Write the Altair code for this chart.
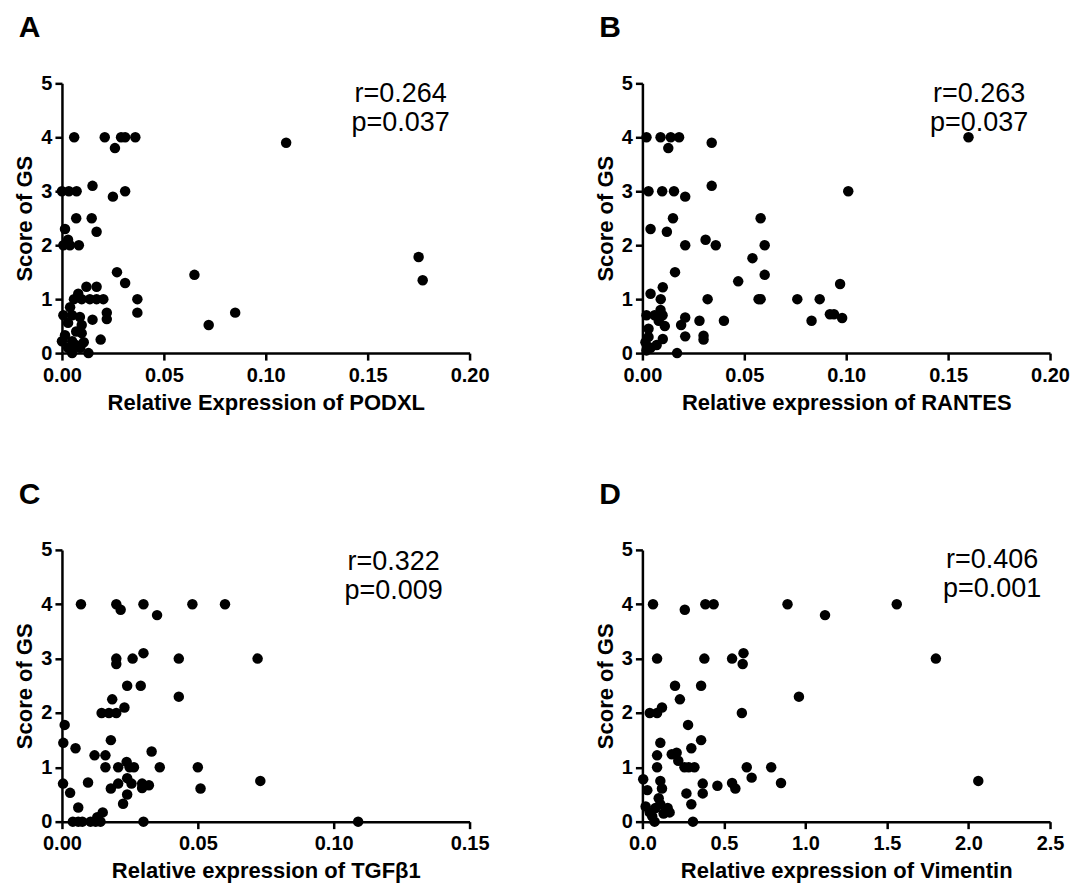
import altair as alt
import pandas as pd

# ---------------- data ----------------
podxl_x = [0.006, 0.021, 0.029, 0.031, 0.036, 0.026, 0.110,
           0.000, 0.0034, 0.0072, 0.015, 0.025, 0.031,
           0.007, 0.0146, 0.017, 0.0015, 0.003, 0.0007, 0.0039, 0.0083,
           0.027, 0.031, 0.065, 0.175, 0.177,
           0.037, 0.037, 0.072, 0.085,
           0.008, 0.012, 0.017,
           0.0059, 0.0097, 0.0137, 0.017, 0.0203,
           0.022, 0.022, 0.015, 0.019, 0.013, 0.005,
           0.004, 0.0007, 0.005, 0.0088, 0.003, 0.0097, 0.007, 0.0015, 0.0097,
           0.000, 0.005, 0.0107, 0.0068, 0.003, 0.009]
podxl_y = [4, 4, 4, 4, 4, 3.8, 3.9,
           3, 3, 3, 3.1, 2.9, 3,
           2.5, 2.5, 2.25, 2.3, 2.1, 2, 2, 2,
           1.5, 1.3, 1.45, 1.78, 1.35,
           1.0, 0.75, 0.52, 0.75,
           1.1, 1.23, 1.23,
           1, 1, 1, 1, 1,
           0.75, 0.63, 0.62, 0.25, 0, 0,
           0.85, 0.7, 0.7, 0.67, 0.56, 0.52, 0.4, 0.33, 0.37,
           0.22, 0.22, 0.2, 0.15, 0.1, 0.1]

rantes_x = [0.002, 0.0089, 0.0139, 0.018, 0.0127, 0.034, 0.160,
            0.003, 0.0097, 0.0155, 0.021, 0.034, 0.101,
            0.004, 0.012, 0.015, 0.021, 0.031, 0.036,
            0.058, 0.060, 0.054, 0.060, 0.047,
            0.016, 0.004, 0.010, 0.009, 0.032, 0.057, 0.058, 0.076, 0.087, 0.097,
            0.002, 0.006, 0.0089, 0.0099, 0.008, 0.011, 0.021, 0.019, 0.021, 0.028, 0.030, 0.030, 0.040,
            0.083, 0.092, 0.094, 0.098,
            0.017, 0.0015, 0.003, 0.003, 0.007, 0.010, 0.002, 0.004]
rantes_y = [4, 4, 4, 4, 3.8, 3.9, 4.0,
            3, 3, 3, 2.9, 3.1, 3.0,
            2.3, 2.25, 2.5, 2.0, 2.1, 2.0,
            2.5, 2.0, 1.76, 1.45, 1.33,
            1.5, 1.1, 1.22, 1.0, 1.0, 1.0, 1.0, 1.0, 1.0, 1.28,
            0.7, 0.7, 0.8, 0.7, 0.6, 0.5, 0.66, 0.52, 0.31, 0.6, 0.32, 0.25, 0.6,
            0.6, 0.72, 0.72, 0.65,
            0, 0.2, 0.3, 0.45, 0.15, 0.26, 0.05, 0.1]

tgfb1_x = [0.007, 0.020, 0.0216, 0.030, 0.035, 0.048, 0.060,
           0.072, 0.043, 0.043, 0.020, 0.020, 0.026, 0.030,
           0.024, 0.029, 0.0185, 0.0146, 0.0173, 0.020, 0.023,
           0.018, 0.012, 0.016, 0.016, 0.033, 0.036, 0.050, 0.051, 0.073, 0.109,
           0.001, 0.0005, 0.005, 0.0004, 0.003, 0.006, 0.0096,
           0.004, 0.006, 0.0075, 0.0105, 0.0124, 0.0142, 0.013, 0.015, 0.030,
           0.0207, 0.0238, 0.0249, 0.0265, 0.0207, 0.024, 0.0256, 0.018, 0.024, 0.0225, 0.0295, 0.032, 0.0295]
tgfb1_y = [4, 4, 3.9, 4, 3.8, 4, 4,
           3.0, 3.0, 2.3, 3.0, 2.9, 3.0, 3.1,
           2.5, 2.5, 2.25, 2, 2, 2, 2.1,
           1.5, 1.22, 1.22, 1.0, 1.29, 1.0, 1.0, 0.61, 0.75, 0,
           1.78, 1.45, 1.35, 0.7, 0.53, 0.26, 0.72,
           0, 0, 0, 0, 0, 0, 0.08, 0.17, 0,
           1.0, 1.1, 1.0, 1.0, 0.7, 0.8, 0.7, 0.61, 0.5, 0.33, 0.7, 0.67, 0.62]

vim_x = [0.065, 0.26, 0.386, 0.437, 0.09, 0.38, 0.55, 0.62, 0.615, 0.61,
         0.89, 1.12, 1.56, 1.80, 0.96, 0.64, 0.79, 0.67, 0.85, 0.55, 0.57, 2.06,
         0.46, 0.37, 0.37, 0.36, 0.36, 0.30, 0.28, 0.20, 0.23,
         0.18, 0.21, 0.22, 0.258, 0.284, 0.319, 0.27, 0.30, 0.31,
         0.045, 0.09, 0.12, 0.11, 0.09, 0.09, 0.11, 0.12, 0.005, 0.03, 0.075,
         0.02, 0.045, 0.10, 0.11, 0.155, 0.167, 0.08, 0.13, 0.06]
vim_y = [4, 3.9, 4, 4, 3, 3, 3, 3.1, 2.9, 2.0,
         4, 3.8, 4, 3.0, 2.3, 1.0, 1.0, 0.81, 0.71, 0.71, 0.61, 0.75,
         0.66, 0.7, 0.52, 2.5, 1.5, 1.35, 1.78, 2.5, 2.25,
         1.24, 1.27, 1.12, 1.0, 1.0, 1.0, 0.52, 0.32, 0,
         2.0, 2.0, 2.1, 1.45, 1.22, 1.0, 0.75, 0.61, 0.78, 0.58, 0,
         0.28, 0.17, 0.43, 0.32, 0.25, 0.17, 0.25, 0.15, 0.1]

panel_letters = ["A", "B", "C", "D"]
x_titles = ["Relative Expression of PODXL", "Relative expression of RANTES",
            "Relative expression of TGFβ1", "Relative expression of Vimentin"]
r_labels = ["r=0.264", "r=0.263", "r=0.322", "r=0.406"]
p_labels = ["p=0.037", "p=0.037", "p=0.009", "p=0.001"]
x_ticks_a = [0.00, 0.05, 0.10, 0.15, 0.20]
x_ticks_b = [0.00, 0.05, 0.10, 0.15, 0.20]
x_ticks_c = [0.00, 0.05, 0.10, 0.15]
x_ticks_d = [0.0, 0.5, 1.0, 1.5, 2.0, 2.5]
y_ticks = [0, 1, 2, 3, 4, 5]

FONT = "Liberation Sans"
W = 408


def panel(xs, ys, xticks, xfmt, xtitle, letter, rlab, plab, tx, ty, h):
    df = pd.DataFrame({"x": xs, "y": ys})
    pts = alt.Chart(df).mark_circle(size=110, color="black", opacity=1, clip=False).encode(
        x=alt.X("x:Q", scale=alt.Scale(domain=[xticks[0], xticks[-1]], nice=False, zero=False, padding=0),
                axis=alt.Axis(values=xticks, format=xfmt, title=xtitle, labelPadding=5,
                              labelFlush=False, titlePadding=7)),
        y=alt.Y("y:Q", scale=alt.Scale(domain=[0, 5], nice=False, padding=0),
                axis=alt.Axis(values=y_ticks, format="d", title="Score of GS",
                              labelPadding=3, titlePadding=4, labelFlush=False)),
    )
    t1 = alt.Chart(pd.DataFrame({"t": [rlab]})).mark_text(
        font=FONT, fontSize=27, color="black", align="center", baseline="alphabetic"
    ).encode(text="t:N", x=alt.value(tx), y=alt.value(ty))
    t2 = alt.Chart(pd.DataFrame({"t": [plab]})).mark_text(
        font=FONT, fontSize=27, color="black", align="center", baseline="alphabetic"
    ).encode(text="t:N", x=alt.value(tx), y=alt.value(ty + 29))
    return alt.layer(pts, t1, t2).properties(
        width=W, height=h,
        title=alt.TitleParams(letter, anchor="start", frame="bounds", fontSize=30,
                              fontWeight="bold", font=FONT, color="black", offset=30, dx=5),
    )


a = panel(podxl_x, podxl_y, x_ticks_a, ".2f", x_titles[0], panel_letters[0], r_labels[0], p_labels[0], 339, 19, 270)
b = panel(rantes_x, rantes_y, x_ticks_b, ".2f", x_titles[1], panel_letters[1], r_labels[1], p_labels[1], 337, 19, 270)
c = panel(tgfb1_x, tgfb1_y, x_ticks_c, ".2f", x_titles[2], panel_letters[2], r_labels[2], p_labels[2], 332, 20, 272)
d = panel(vim_x, vim_y, x_ticks_d, ".1f", x_titles[3], panel_letters[3], r_labels[3], p_labels[3], 350, 18, 272)

chart = alt.vconcat(
    alt.hconcat(a, b, spacing=104),
    alt.hconcat(c, d, spacing=104),
    spacing=67,
).configure_view(stroke=None).configure_axis(
    grid=False,
    domainColor="black", domainWidth=2.5,
    tickColor="black", tickWidth=2.5, tickSize=7,
    labelFont=FONT, labelFontSize=20, labelFontWeight="bold", labelColor="black",
    titleFont=FONT, titleFontSize=22, titleFontWeight="bold", titleColor="black",
).properties(background="white")

chart.save("out.html", embed_options={"renderer": "svg", "actions": False})
